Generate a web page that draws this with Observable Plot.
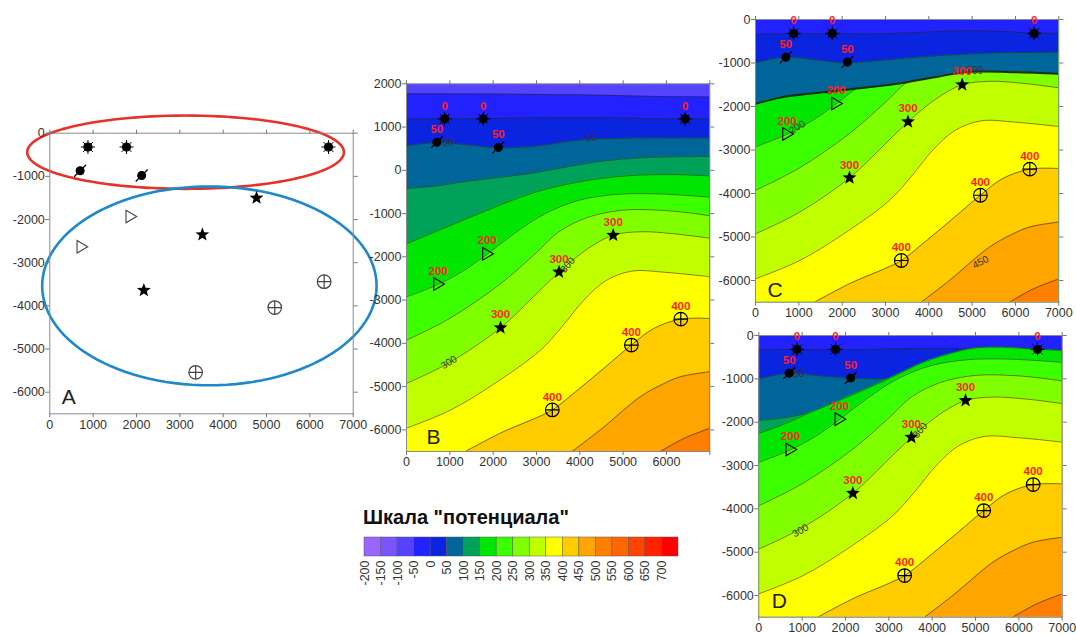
<!DOCTYPE html>
<html><head><meta charset="utf-8">
<script src="https://cdn.jsdelivr.net/npm/d3@7"></script>
<script src="https://cdn.jsdelivr.net/npm/@observablehq/plot@0.6"></script>
<style>
html,body{margin:0;padding:0;background:#fff;}
#root{position:relative;width:1076px;height:635px;overflow:hidden;font-family:"Liberation Sans",Arial,sans-serif;}
#root > svg{position:absolute;}
.title{position:absolute;left:363px;top:506px;font-weight:bold;font-size:20px;color:#111;white-space:nowrap;}
</style></head><body><div id="root"><div class="title">Шкала "потенциала"</div></div>
<script>
// ---------- tick values ----------
const xTicks = [0,1000,2000,3000,4000,5000,6000,7000];
const yTicksA = [0,-1000,-2000,-3000,-4000,-5000,-6000];
const yTicksB = [2000,1000,0,-1000,-2000,-3000,-4000,-5000,-6000];

// ---------- legend ----------
const legendStart = [-200,-150,-100,-50,0,50,100,150,200,250,300,350,400,450,500,550,600,650,700];
const legendColors = ["#9966FF","#7A55FF","#5544FF","#2222FF","#0A24E0","#006699","#00A25A","#00E600","#3CFF00","#80FF00","#C0FF00","#FFFF00","#FFCC00","#FFA500","#FF8000","#FF6600","#FF4400","#FF2200","#FF0000"];
const col = v => legendColors[legendStart.indexOf(v)];

// ---------- wells ----------
const wellKind  = ["sun","sun","sun","ell","ell","tri","tri","star","star","star","cc","cc","cc"];
const wellLabel = ["0","0","0","50","50","200","200","300","300","300","400","400","400"];
const wellX  = [880,1770,6430,700,2120,1860,730,4770,3520,2170,6330,5190,3365];
const wellY  = [-320,-320,-320,-870,-980,-1930,-2630,-1500,-2350,-3640,-3440,-4040,-5540];
const wellYB = [1190,1190,1190,650,530,-1930,-2630,-1500,-2350,-3640,-3440,-4040,-5540];

// ---------- ellipses (panel A) ----------
const ellCX = [3132,3682], ellCY = [-440,-3537], ellRX = [3654,3858], ellRY = [849,2303];
const ellColor = ["#E5332A","#1E88C8"];

// ---------- contours, panel B (upper) ----------
const bCm50 = [[0,1770],[1500,1765],[3000,1755],[4500,1735],[5800,1705],[7000,1695]];
const bC0   = [[0,1180],[900,1190],[1800,1195],[3000,1210],[4200,1215],[5400,1200],[6430,1190],[7000,1185]];
const bC50  = [[0,570],[700,640],[1400,590],[2100,520],[3000,560],[4000,700],[5000,740],[6000,745],[7000,745]];
const bC100 = [[0,-423],[700,-360],[1285,-270],[2000,-180],[2823,-78],[3600,60],[4362,191],[5100,270],[5900,307],[7000,320]];
const bC150 = [[0,-1700],[1000,-1280],[1800,-950],[2440,-693],[3200,-440],[4200,-230],[5200,-120],[6200,-100],[7000,-130]];
// ---------- contours shared by B, C, D (lower) ----------
const c200 = [[0,-2925],[720,-2640],[1300,-2330],[1860,-1940],[2500,-1450],[3200,-1000],[3977,-693],[4800,-560],[5600,-540],[6300,-570],[7000,-620]];
const c250 = [[0,-3925],[1000,-3420],[2170,-2620],[3000,-1900],[3516,-1420],[4200,-1080],[5000,-920],[5800,-920],[6500,-980],[7000,-1050]];
const c300 = [[0,-4925],[970,-4455],[2170,-3640],[2900,-2950],[3520,-2350],[4200,-1800],[4770,-1500],[5400,-1420],[6200,-1470],[7000,-1570]];
const c350 = [[0,-5960],[1000,-5550],[2000,-4950],[3093,-4155],[3600,-3600],[4093,-3000],[4600,-2550],[5200,-2330],[6000,-2360],[7000,-2460]];
const c400 = [[1360,-6500],[2200,-6060],[3000,-5720],[3365,-5540],[4000,-5040],[4600,-4540],[5190,-4040],[5700,-3660],[6330,-3440],[7000,-3425]];
const c450 = [[3824,-6500],[4500,-5980],[5400,-5233],[5900,-4950],[6324,-4772],[7000,-4656]];
const c500 = [[5862,-6500],[6400,-6200],[7000,-5963]];
// ---------- panel C (upper) ----------
const cC0    = [[0,-340],[900,-330],[1800,-325],[2700,-330],[3500,-310],[4300,-275],[5000,-255],[5800,-280],[6430,-310],[7000,-320]];
const cC50   = [[0,-996],[692,-866],[1400,-930],[2115,-996],[3000,-930],[4270,-828],[5500,-770],[7000,-751]];
const cThick = [[0,-1940],[600,-1790],[1770,-1650],[2600,-1560],[3500,-1440],[4580,-1250],[4960,-1200],[6000,-1210],[7000,-1250]];
// ---------- panel D (upper) ----------
const dC0    = [[0,-323],[900,-322],[1800,-330],[2700,-320],[3500,-300],[4500,-300],[5500,-320],[7000,-340]];
const dC50   = [[0,-1000],[693,-869],[1400,-930],[2116,-980],[2800,-1000],[3600,-960],[4500,-900],[5500,-830],[7000,-780]];
const dC100  = [[0,-1960],[700,-1880],[1350,-1740],[2000,-1600],[3000,-1400],[4500,-1150],[7000,-1000]];
const dSweep = [[0,-2255],[500,-2080],[1116,-1808],[1900,-1480],[2654,-1154],[3300,-850],[3808,-615],[4400,-420],[4962,-292],[5600,-270],[6300,-310],[7000,-346]];

// ---------- contour value labels ----------
const bLabX=[960,4250,980,3720], bLabY=[630,745,-4440,-2190], bLabT=["50","50","300","300"], bLabR=[0,-5,-32,-50];
const cLabX=[962,5060,5193], cLabY=[-2476,-1180,-5580], cLabT=["200","300","450"], cLabR=[-30,0,-28];
const dLabX=[923,3720,962], dLabY=[-884,-2190,-4500], dLabT=["50","300","300"], dLabR=[0,-50,-30];

// ---------- symbols ----------
const sunSym = {draw(ctx,size){const r=Math.sqrt(size/Math.PI), c=r*0.58; ctx.moveTo(c,0); ctx.arc(0,0,c,0,2*Math.PI);
  for(let k=0;k<8;k++){const a=k*Math.PI/4; ctx.moveTo(Math.cos(a)*c,Math.sin(a)*c); ctx.lineTo(Math.cos(a)*r,Math.sin(a)*r);}}};
const ellSym = {draw(ctx,size){const r=Math.sqrt(size/Math.PI), c=r*0.62; ctx.moveTo(c,0); ctx.arc(0,0,c,0,2*Math.PI);
  ctx.moveTo(-r*0.95,r*0.95); ctx.lineTo(r*0.95,-r*0.95);}};
const triSym = {draw(ctx,size){const r=Math.sqrt(size/Math.PI); ctx.moveTo(-0.7*r,-r); ctx.lineTo(r,0); ctx.lineTo(-0.7*r,r); ctx.closePath();}};
const starSym = {draw(ctx,size){const R=Math.sqrt(size/Math.PI), q=R*0.42;
  for(let i=0;i<10;i++){const a=-Math.PI/2+i*Math.PI/5, rr=i%2?q:R, px=Math.cos(a)*rr, py=Math.sin(a)*rr; if(i) ctx.lineTo(px,py); else ctx.moveTo(px,py);} ctx.closePath();}};
const ccSym = {draw(ctx,size){const r=Math.sqrt(size/Math.PI); ctx.moveTo(r,0); ctx.arc(0,0,r,0,2*Math.PI);
  ctx.moveTo(-r,0); ctx.lineTo(r,0); ctx.moveTo(0,-r); ctx.lineTo(0,r);}};
const kindStyle = {
  sun:{symbol:sunSym,r:7,fill:"#000",stroke:"#000",strokeWidth:1},
  ell:{symbol:ellSym,r:6.3,fill:"#000",stroke:"#000",strokeWidth:1.2},
  tri:{symbol:triSym,r:6.3,fill:"none",stroke:"#000",strokeWidth:1.1},
  star:{symbol:starSym,r:7.3,fill:"#000",stroke:"none"},
  cc:{symbol:ccSym,r:6.8,fill:"none",stroke:"#000",strokeWidth:1.2}
};
const wells = wellX.map((x,i)=>({x, y:wellY[i], yB:wellYB[i], kind:wellKind[i], label:wellLabel[i]}));

const FONT = '"Liberation Sans", Arial, sans-serif';
const root = document.getElementById("root");

function panel(o){
  const marks = [];
  if (o.base) marks.push(Plot.frame({fill:o.base, stroke:null}));
  for (const L of (o.layers||[])) {
    const yEdge = L.dir === "above" ? o.yDomain[1] : o.yDomain[0];
    marks.push(Plot.areaY(L.pts, {x:d=>d[0], y1:d=>d[1], y2:()=>yEdge, fill:L.color, curve:"catmull-rom", clip:true}));
    marks.push(Plot.line(L.pts, {x:d=>d[0], y:d=>d[1], stroke:L.stroke||"#2a2a2a", strokeWidth:L.sw||0.7, strokeOpacity:0.85, curve:"catmull-rom", clip:true}));
  }
  if (o.labels) {
    const t = o.labels[0].map((x,i)=>({x, y:o.labels[1][i], t:o.labels[2][i], r:o.labels[3][i]}));
    marks.push(Plot.text(t, {x:"x", y:"y", text:"t", rotate:"r", fontSize:10, fill:"#333"}));
  }
  if (o.ellipses) {
    ellCX.forEach((cx,i)=>{
      const pts = d3.range(0,361,3).map(a=>[cx+ellRX[i]*Math.cos(a*Math.PI/180), ellCY[i]+ellRY[i]*Math.sin(a*Math.PI/180)]);
      marks.push(Plot.line(pts, {x:d=>d[0], y:d=>d[1], stroke:ellColor[i], strokeWidth:2.6}));
    });
  }
  marks.push(Plot.frame({stroke:"#8a8a8a"}));
  marks.push(Plot.axisX({ticks:xTicks, anchor:"bottom", tickSize:4, tickPadding:2, tickFormat:o.xFmt||(d=>String(d)), stroke:"#777", fill:"#333", label:null}));
  marks.push(Plot.axisX({ticks:xTicks, anchor:"top", tickSize:4, tickFormat:()=>"", stroke:"#777", label:null}));
  marks.push(Plot.axisY({ticks:o.yTicks, anchor:"left", tickSize:4, tickPadding:1, tickFormat:d=>String(d), stroke:"#777", fill:"#333", label:null}));
  marks.push(Plot.axisY({ticks:o.yTicks, anchor:"right", tickSize:4, tickFormat:()=>"", stroke:"#777", label:null}));
  const yKey = o.yKey || "y";
  for (const k in kindStyle) {
    const st = Object.assign({}, kindStyle[k]);
    if (o.ellipses && (k==="tri"||k==="cc")) st.stroke = "#444";
    marks.push(Plot.dot(wells.filter(d=>d.kind===k), {x:"x", y:yKey, ...st}));
  }
  if (o.wellLabels) marks.push(Plot.text(wells, {x:"x", y:yKey, text:"label", dy:-13, fill:"#FF1F1F", fontWeight:"bold", fontSize:11.5}));
  marks.push(Plot.text([o.letter], {text:d=>d, frameAnchor:"bottom-left", dx:o.ldx, dy:-o.ldy, textAnchor:"start", lineAnchor:"bottom", fontSize:21, fill:"#222"}));
  const svg = Plot.plot({
    width:o.width, height:o.height,
    marginLeft:o.m[0], marginRight:o.m[1], marginTop:o.m[2], marginBottom:o.m[3],
    x:{domain:[0,7000]}, y:{domain:o.yDomain},
    style:{background:"none", overflow:"visible", fontFamily:FONT, fontSize:"12.5px", color:"#333"},
    marks
  });
  svg.style.position = "absolute"; svg.style.left = o.left+"px"; svg.style.top = o.top+"px";
  root.appendChild(svg);
}

// A
panel({left:0, top:100, width:385, height:340, m:[49.3,32.3,32.7,26.7], yDomain:[-6500,0], yTicks:yTicksA,
  ellipses:true, letter:"A", ldx:12, ldy:10});
// B
panel({left:355, top:70, width:370, height:410, m:[51,15.7,13.3,29], yDomain:[-6500,2000], yTicks:yTicksB, yKey:"yB",
  base:col(-100), xFmt:d=>d===7000?"":String(d),
  layers:[
    {pts:bCm50,color:col(-50)},{pts:bC0,color:col(0)},{pts:bC50,color:col(50)},{pts:bC100,color:col(100)},
    {pts:bC150,color:col(150)},{pts:c200,color:col(200)},{pts:c250,color:col(250)},{pts:c300,color:col(300)},
    {pts:c350,color:col(350)},{pts:c400,color:col(400)},{pts:c450,color:col(450)},{pts:c500,color:col(500)}],
  labels:[bLabX,bLabY,bLabT,bLabR], wellLabels:true, letter:"B", ldx:20, ldy:8});
// C
panel({left:700, top:0, width:376, height:330, m:[55,17.7,19,28.25], yDomain:[-6500,0], yTicks:yTicksA,
  base:col(150),
  layers:[
    {pts:c200,color:col(200)},{pts:c250,color:col(250)},{pts:c300,color:col(300)},{pts:c350,color:col(350)},
    {pts:c400,color:col(400)},{pts:c450,color:col(450)},{pts:c500,color:col(500)},
    {pts:cThick,color:col(50),dir:"above",sw:2,stroke:"#111"},
    {pts:cC50,color:col(0),dir:"above"},{pts:cC0,color:col(-50),dir:"above"}],
  labels:[cLabX,cLabY,cLabT,cLabR], wellLabels:true, letter:"C", ldx:12, ldy:5});
// D
panel({left:700, top:320, width:376, height:315, m:[58.3,14.3,15,18.3], yDomain:[-6500,0], yTicks:yTicksA,
  base:col(-50),
  layers:[
    {pts:dC0,color:col(0)},{pts:dC50,color:col(50)},{pts:dC100,color:col(100)},{pts:dSweep,color:col(150)},
    {pts:c200,color:col(200)},{pts:c250,color:col(250)},{pts:c300,color:col(300)},{pts:c350,color:col(350)},
    {pts:c400,color:col(400)},{pts:c450,color:col(450)},{pts:c500,color:col(500)}],
  labels:[dLabX,dLabY,dLabT,dLabR], wellLabels:true, letter:"D", ldx:13, ldy:9});

// Legend colour bar
const cells = legendStart.map((v,i)=>({v, c:legendColors[i]}));
const leg = Plot.plot({
  width:360, height:65, marginLeft:24, marginRight:22, marginTop:7, marginBottom:39,
  x:{domain:[-200,750]}, y:{axis:null},
  style:{background:"none", overflow:"visible", fontFamily:FONT, fontSize:"12.5px", color:"#333"},
  marks:[
    Plot.rect(cells, {x1:"v", x2:d=>d.v+50, fill:"c", stroke:"#555", strokeWidth:0.6, strokeOpacity:0.8}),
    Plot.axisX({ticks:legendStart, anchor:"bottom", tickRotate:-90, tickSize:0, tickPadding:4, tickFormat:d=>String(d), fill:"#333", label:null})
  ]
});
leg.style.position="absolute"; leg.style.left="340px"; leg.style.top="530px";
root.appendChild(leg);
</script></body></html>
